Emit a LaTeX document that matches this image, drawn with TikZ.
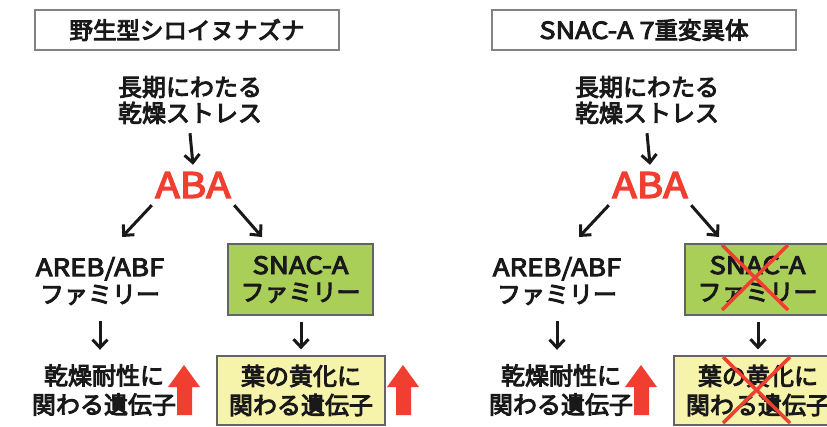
\documentclass[tikz,border=0pt]{standalone}
\usepackage{fontspec}
\setmainfont{Noto Sans CJK JP}
\newfontfamily\jpb{Noto Sans CJK JP}[FakeBold=4]
\newfontfamily\latb{Noto Sans CJK JP}[FakeBold=4, FakeStretch=1.15]
\usetikzlibrary{arrows.meta}
\definecolor{abared}{RGB}{240,62,48}
\definecolor{boxgreen}{RGB}{169,207,88}
\definecolor{boxyellow}{RGB}{246,243,170}
\definecolor{boxline}{RGB}{100,100,100}
\definecolor{ink}{RGB}{25,25,25}
\tikzset{
 txt/.style={font=\fontsize{24}{27}\selectfont\jpb, align=center, inner sep=0pt, text=ink},
 titlebox/.style={draw=boxline!80, line width=1.2pt, fill=white, minimum width=304, minimum height=40, inner sep=0pt, text=ink, font=\fontsize{23.5}{26}\selectfont\jpb},
 greenbox/.style={txt, draw=boxline, line width=1.2pt, fill=boxgreen, minimum width=145, minimum height=71},
 yellowbox/.style={txt, draw=boxline, line width=1.2pt, fill=boxyellow, minimum width=168, minimum height=69},
 blk/.style={draw=ink, line width=3pt, -{Straight Barb[length=8,width=15]}},
 uparrow/.style={fill=abared, draw=none},
 cross/.style={draw=abared, line width=3.5pt},
}
\newcommand\drawpanel[3]{%
\begin{scope}[xshift=#2]
\node[titlebox] (#1title) at (187,30) {#3};
\node[txt, font=\fontsize{24}{26}\selectfont\jpb, minimum height=66] (#1stress) at (190,100) {長期にわたる\\乾燥ストレス};
\node[inner sep=0pt, font=\fontsize{35}{38}\selectfont\latb, text=abared, minimum width=82, minimum height=40] (#1aba) at (193,185) {ABA};
\coordinate (#1tipL) at (122,237);
\coordinate (#1tipR) at (262,237);
\node[txt, minimum height=80] (#1areb) at (100,281) {{\latb AREB/ABF}\\ファミリー};
\node[greenbox] (#1snac) at (300.5,279.5) {{\latb SNAC-A}\\ファミリー};
\node[txt, font=\fontsize{24}{29}\selectfont\jpb, minimum height=80] (#1genes) at (104,390) {乾燥耐性に\\関わる遺伝子};
\node[yellowbox, font=\fontsize{24}{29}\selectfont\jpb] (#1leaf) at (301,390.5) {葉の黄化に\\関わる遺伝子};
\draw[blk] (#1stress.south) -- (#1aba.north);
\draw[blk] (#1aba.south west) -- (#1tipL);
\draw[blk] (#1aba.south east) -- (#1tipR);
\draw[blk] (#1areb.south) -- (#1areb.south |- #1genes.north);
\draw[blk, shorten <=6pt, shorten >=6pt] (#1snac.south -| #1leaf.north) -- (#1leaf.north);
\fill[uparrow] (184,365) -- (200,387) -- (192,387) -- (192,415) -- (177,415) -- (177,387) -- (168,387) -- cycle;
\fill[uparrow] (403,365) -- (419,387) -- (411,387) -- (411,415) -- (396,415) -- (396,387) -- (387,387) -- cycle;
\end{scope}}
\begin{document}
\begin{tikzpicture}[x=1pt,y=-1pt]
\useasboundingbox (0,0) rectangle (827,426);
\clip (0,0) rectangle (827,426);
\fill[white] (0,0) rectangle (827,426);
\drawpanel{L}{0}{野生型シロイヌナズナ}
\drawpanel{R}{457}{{\latb SNAC-A 7}重変異体}
\draw[cross] (722,245) -- (788,310);
\draw[cross] (788,245) -- (722,310);
\draw[cross] (723,357) -- (790,423);
\draw[cross] (790,357) -- (723,423);
\end{tikzpicture}
\end{document}
